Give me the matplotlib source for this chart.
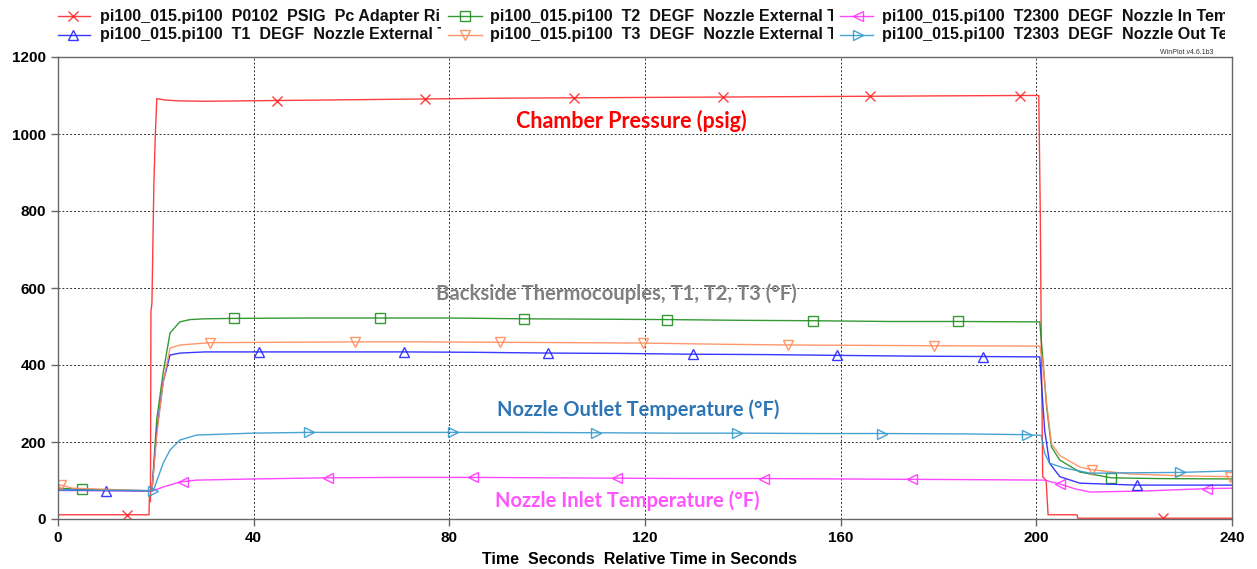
import matplotlib
matplotlib.use("Agg")
import matplotlib.pyplot as plt
from matplotlib.lines import Line2D
from matplotlib.transforms import Bbox, TransformedBbox

# ---- data ----
# P0102 chamber pressure (psig)
t_pc = [0, 14.1, 18.6, 18.7, 18.9, 19.0, 19.2, 19.6, 19.9, 20.2, 22, 25, 30, 44.8, 60, 75, 90,
        105.5, 120, 136, 150, 166, 180, 196.6, 200.5, 200.8, 201.0, 201.3, 202.0, 202.4,
        208.3, 208.5, 225.9, 240]
v_pc = [11, 11, 11, 60, 45, 540, 560, 870, 1000, 1092, 1088, 1086, 1085, 1087, 1089, 1091, 1093,
        1094, 1095, 1096, 1097, 1098, 1099, 1100, 1100, 800, 483, 110, 100, 11,
        11, 2, 2, 2]
mk_pc = [14.1, 44.8, 75, 105.5, 136, 166, 196.6, 225.9]

# T2 nozzle external
t_t2 = [0, 5.0, 19.2, 20.2, 21.5, 22.9, 24.9, 27, 30, 35.9, 50, 65.8, 80, 95.3, 110, 124.5, 140,
        154.3, 170, 184, 200.7, 201.4, 202.1, 203.1, 204.8, 208.9, 215.3, 225, 240]
v_t2 = [80, 77, 73, 260, 380, 483, 512, 518, 520, 521, 522, 522, 522, 520, 519, 518, 516,
        515, 513, 513, 512, 405, 291, 187, 153, 122, 107, 105, 104]
mk_t2 = [5.0, 35.9, 65.8, 95.3, 124.5, 154.3, 184, 215.3]

# T3 nozzle external
t_t3 = [0, 0.6, 3, 19.2, 20.2, 21.5, 22.9, 25, 31.1, 45, 60.7, 75, 90.4, 105, 119.6, 135, 149.2,
        165, 179, 200.7, 201.4, 202.1, 203.1, 204.8, 208.9, 211.4, 219, 230, 239.6, 240]
v_t3 = [90, 88, 80, 73, 220, 355, 444, 452, 458, 459, 460, 460, 459, 458, 457, 454, 452,
        451, 450, 449, 400, 300, 195, 165, 135, 128, 117, 112, 110, 110]
mk_t3 = [0.6, 31.1, 60.7, 90.4, 119.6, 149.2, 179, 211.4, 239.6]

# T1 nozzle external
t_t1 = [0, 9.8, 19.2, 20.2, 21.5, 22.9, 25, 30, 41.1, 55, 70.7, 85, 100.2, 115, 129.8, 145,
        159.3, 175, 189, 200.7, 201.0, 201.7, 202.7, 204.8, 208.9, 220.6, 240]
v_t1 = [75, 74, 73, 230, 356, 426, 431, 434, 434, 434, 434, 433, 431, 430, 428, 427,
        425, 423, 422, 421, 361, 231, 145, 110, 93, 88, 88]
mk_t1 = [9.8, 41.1, 70.7, 100.2, 129.8, 159.3, 189, 220.6]

# T2303 nozzle outlet
t_out = [0, 19.5, 21.5, 22.9, 24.9, 28.3, 35, 40, 51.3, 65, 80.7, 95, 110, 125, 138.8, 155,
         168.4, 185, 198, 201.0, 201.7, 202.7, 205.5, 211, 220, 229.4, 240]
v_out = [75, 74, 145, 179, 205, 218, 221, 223, 225, 225, 225, 225, 224, 223, 223, 222,
         222, 221, 219, 217, 171, 145, 133, 119, 120, 121, 125]
mk_out = [19.5, 51.3, 80.7, 110, 138.8, 168.4, 198, 229.4]

# T2300 nozzle inlet
t_in = [0, 19.3, 21.5, 24.9, 25.6, 28.3, 40, 55.2, 70, 84.8, 100, 114.3, 130, 144.3, 160,
        174.6, 190, 201.5, 202.1, 203.1, 204.8, 208, 211, 222.6, 234.9, 240]
v_in = [74, 73, 83, 96, 97, 101, 104, 107, 108, 108, 107, 106, 105, 105, 104,
        103, 102, 101, 100, 96, 91, 78, 70, 73, 79, 80]
mk_in = [25.6, 55.2, 84.8, 114.3, 144.3, 174.6, 204.8, 234.9]

x_ticks = [0, 40, 80, 120, 160, 200, 240]
y_ticks = [0, 200, 400, 600, 800, 1000, 1200]

prefix = "pi100_015.pi100  "
series = [
    # t, v, marker times, colour, marker, legend label
    (t_pc, v_pc, mk_pc, "#ff2a2a", "x", prefix + "P0102  PSIG  Pc Adapter Ring"),
    (t_t2, v_t2, mk_t2, "#1f8f1f", "s", prefix + "T2  DEGF  Nozzle External Temp"),
    (t_in, v_in, mk_in, "#ff33ff", "<", prefix + "T2300  DEGF  Nozzle In Temp"),
    (t_t1, v_t1, mk_t1, "#2222ff", "^", prefix + "T1  DEGF  Nozzle External Temp"),
    (t_t3, v_t3, mk_t3, "#ff8c5a", "v", prefix + "T3  DEGF  Nozzle External Temp"),
    (t_out, v_out, mk_out, "#3399cc", ">", prefix + "T2303  DEGF  Nozzle Out Temp"),
]

W, H = 1257, 569
fig = plt.figure(figsize=(W / 100, H / 100), dpi=100)
ax = fig.add_axes([58 / W, 1 - 519 / H, (1232 - 58) / W, (519 - 57) / H])

for t, v, mk, col, m, lab in series:
    idx = [i for i, tt in enumerate(t) if tt in mk]
    ax.plot(t, v, color=col, lw=1.0, marker=m, markevery=idx, ms=6.5,
            mfc="none", mec=col, mew=1.0, alpha=0.9)

ax.set_xlim(0, 240)
ax.set_ylim(0, 1200)
ax.set_xticks(x_ticks)
ax.set_yticks(y_ticks)
ax.grid(True, ls=(0, (2, 2)), lw=0.7, color="#333333")
for s in ax.spines.values():
    s.set_color("#666666")
    s.set_linewidth(1.0)
ax.tick_params(direction="out", length=5, width=1, color="#666666", labelsize=11)
for lb in ax.get_xticklabels() + ax.get_yticklabels():
    lb.set_fontfamily("Liberation Sans")
    lb.set_fontweight("bold")
ax.set_xlabel("Time  Seconds  Relative Time in Seconds", fontfamily="Liberation Sans",
              fontweight="bold", fontsize=11.5, labelpad=3)
ax.xaxis.set_label_coords(0.4957, -0.072)

# annotations
ann = dict(fontfamily="Lato", fontweight="bold", ha="center", va="center")
ax.text(117.1, 1034, "Chamber Pressure (psig)", color="#ff0000", fontsize=15.5, **ann)
ax.text(114.1, 584, "Backside Thermocouples, T1, T2, T3 (°F)", color="#808080", fontsize=14.6, **ann)
ax.text(118.6, 283, "Nozzle Outlet Temperature (°F)", color="#2e75b6", fontsize=14.5, **ann)
ax.text(116.4, 47, "Nozzle Inlet Temperature (°F)", color="#ff55ff", fontsize=14.5, **ann)

fig.text(1213 / W, 1 - 53 / H, "WinPlot v4.6.1b3", ha="right", va="center",
         fontsize=5, fontfamily="Liberation Sans", color="#333333")

# legend drawn by hand: three columns, two rows, text cut at column edge
cols = [(58, 90, 73, 100, 441), (448, 482, 465, 490, 833), (840, 873, 858, 882, 1225)]
rows = [16, 35]
for k, (t, v, mk, col, m, lab) in enumerate(series):
    r, c = k // 3, k % 3
    x0, x1, xm, xt, xc = cols[c]
    yy = 1 - rows[r] / H
    fig.add_artist(Line2D([x0 / W, x1 / W], [yy, yy], color=col, lw=1.0, alpha=0.9,
                          transform=fig.transFigure))
    fig.add_artist(Line2D([xm / W], [yy], color=col, marker=m, ms=7, mfc="none",
                          mew=1.0, alpha=0.9, transform=fig.transFigure))
    txt = fig.text(xt / W, yy, lab, ha="left", va="center", fontsize=11.6,
                   fontfamily="Liberation Sans", fontweight="bold", color="#111111")
    txt.set_clip_box(TransformedBbox(Bbox([[0, 0], [xc / W, 1]]), fig.transFigure))
    txt.set_clip_on(True)

fig.savefig("out.png", dpi=100)
